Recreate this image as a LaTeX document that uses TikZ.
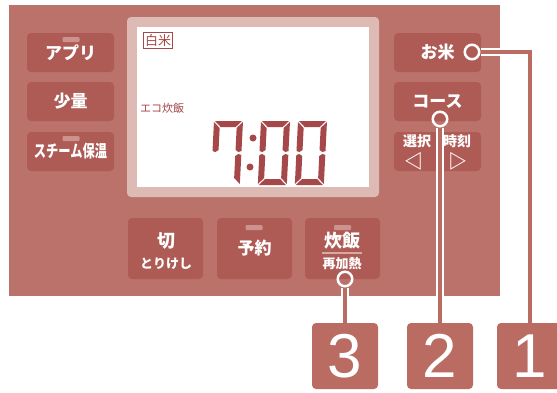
\documentclass[tikz,border=0pt]{standalone}
\usepackage{graphicx}
\usepackage{fontspec}
\setmainfont{Liberation Sans}
\newfontfamily\jpfont{Noto Sans CJK JP}
\usetikzlibrary{positioning}
\definecolor{panelcol}{RGB}{186,114,106}
\definecolor{keycol}{RGB}{174,91,86}
\definecolor{lampcol}{RGB}{206,146,140}
\definecolor{framecol}{RGB}{222,186,180}
\definecolor{lcdcol}{RGB}{166,72,74}
\definecolor{tagcol}{RGB}{186,108,99}
\tikzset{
  key/.style = {rectangle, rounded corners=4pt, fill=keycol, text=white, minimum width=87pt, minimum height=39pt, font=\jpfont\bfseries\fontsize{17}{17}\selectfont},
  bigkey/.style = {key, minimum width=75pt, minimum height=61pt},
  lamp/.style = {rectangle, rounded corners=1pt, fill=lampcol, minimum width=17pt, minimum height=5pt, inner sep=0pt},
  keytext/.style = {text=white, inner sep=0pt, font=\jpfont\bfseries\fontsize{#1}{#1}\selectfont},
  ring/.style = {circle, draw=white, line width=2.5pt, minimum size=14.5pt, inner sep=0pt},
  lead/.style = {draw=white, line width=2pt, double=tagcol, double distance=4pt},
  tag/.style = {rectangle, rounded corners=4pt, fill=tagcol, text=white, minimum width=66pt, minimum height=66pt, inner sep=0pt, font=\fontsize{62}{62}\selectfont}
}
% segments of one lcd digit, 29 x 64
\newcommand{\segA}{(1,0) -- (28,0) -- (22,6) -- (7,6) -- cycle}
\newcommand{\segB}{(29,1) -- (29,30) -- (26,31) -- (23,29) -- (23,7) -- cycle}
\newcommand{\segC}{(29,34) -- (29,63) -- (23,57) -- (23,35) -- (26,33) -- cycle}
\newcommand{\segD}{(7,58) -- (22,58) -- (28,64) -- (1,64) -- cycle}
\newcommand{\segE}{(0,34) -- (3,33) -- (6,35) -- (6,57) -- (0,63) -- cycle}
\newcommand{\segF}{(0,1) -- (6,7) -- (6,29) -- (3,31) -- (0,30) -- cycle}
\begin{document}
\begin{tikzpicture}[x=1pt, y=-1pt]
\useasboundingbox (0,0) rectangle (557,392);
% panel
\fill [panelcol] (9,5) rectangle (500,296);
\fill [framecol, rounded corners=4pt] (127,17) rectangle (379,197);
\fill [white] (137,27) rectangle (369,187);
\node [draw=lcdcol, line width=1pt, fill=white, text=lcdcol, inner sep=1.5pt, font=\jpfont\fontsize{13}{13}\selectfont] (rice) at (158,40.5) {白米};
\node [anchor=west, text=lcdcol, inner sep=0pt, font=\jpfont\fontsize{11}{11}\selectfont] (eco) at (140,108) {エコ炊飯};
% 7:00
\begin{scope}[shift={(214,121)}, xslant=0.05]
\fill [lcdcol] \segA \segB \segC \segF;
\end{scope}
\begin{scope}[shift={(261,121)}, xslant=0.05]
\fill [lcdcol] \segA \segB \segC \segD \segE \segF;
\end{scope}
\begin{scope}[shift={(298,121)}, xslant=0.05]
\fill [lcdcol] \segA \segB \segC \segD \segE \segF;
\end{scope}
\fill [lcdcol] (253,138) circle (3.5) (250,167) circle (3.5);
% left keys
\node [key] (app) at (70.5,52.5) {アプリ};
\node [lamp] at (71,39.5) {};
\node [key] (small) at (70.5,101.5) {少量};
\node [key] (steam) at (70.5,151.5) {\scalebox{0.72}[1]{スチーム保温}};
\node [lamp] at (71,138.5) {};
% right keys
\node [key] (okome) at (437.5,52.5) {お米};
\node [key] (course) at (437.5,101.5) {コース};
\node [key] (sel) at (437.5,151.5) {};
\node [keytext=14] (selA) at (417,141) {選択};
\node [keytext=14] (selB) at (457,141) {時刻};
\node [keytext=19] (left) at (414,161) {◁};
\node [keytext=19] (right) at (458,161) {▷};
% bottom keys
\node [bigkey] (cut) at (165.5,248.5) {};
\node [keytext=18] (cutA) at (166,240.5) {切};
\node [keytext=13] (cutB) at (166,263.5) {とりけし};
\node [bigkey] (timer) at (254.5,248.5) {予約};
\node [lamp] at (254,227.5) {};
\node [bigkey] (cook) at (342.5,248.5) {};
\node [lamp] at (342.5,227.5) {};
\node [keytext=18] (cookA) at (342,241) {炊飯};
\node [keytext=13] (cookB) at (342,264) {再加熱};
\draw [lampcol!80!white, line width=2pt] (322,252.5) -- (362,252.5);
% numbered tags
\node [tag] (t3) at (345,356) {3};
\node [tag] (t2) at (440,356) {2};
\node [tag] (t1) at (530,356) {1};
\node [ring] (c1) at (472,52) {};
\node [ring] (c2) at (440,119) {};
\node [ring] (c3) at (345,279) {};
\draw [lead] (c1) -| (t1);
\draw [lead] (c2) -- (t2);
\draw [lead] (c3) -- (t3);
\end{tikzpicture}
\end{document}
